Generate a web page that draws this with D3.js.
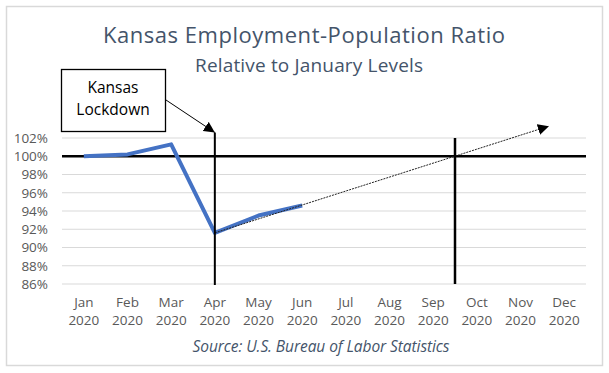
<!DOCTYPE html>
<html>
<head>
<meta charset="utf-8">
<script src="https://cdn.jsdelivr.net/npm/d3@7"></script>
<style>
  body { margin: 0; background: #fff; }
  text { font-family: "Open Sans", "Noto Sans", sans-serif; }
</style>
</head>
<body>
<svg id="chart"></svg>
<script>
const months = ['Jan', 'Feb', 'Mar', 'Apr', 'May', 'Jun', 'Jul', 'Aug', 'Sep', 'Oct', 'Nov', 'Dec'];
const years = months.map(() => '2020');
const ratio = [100, 100.2, 101.3, 91.6, 93.5, 94.6]; // Jan..Jun
const yTicks = [86, 88, 90, 92, 94, 96, 98, 100, 102];
// trend arrow, month index (Jan = 0) and value
const trendIdx = [3, 10.65];
const trendVal = [91.6, 103.3];
const lockdownIdx = 3;
const targetIdx = 8.5;

const width = 609, height = 373;
const margin = { top: 138, right: 23, bottom: 89, left: 62 };

const svg = d3.select('#chart').attr('width', width).attr('height', height);

const defs = svg.append('defs');
defs.append('marker')
  .attr('id', 'head').attr('viewBox', '0 0 10 10')
  .attr('refX', 10).attr('refY', 5)
  .attr('markerWidth', 11).attr('markerHeight', 11)
  .attr('markerUnits', 'userSpaceOnUse')
  .attr('orient', 'auto')
  .append('path').attr('d', 'M0,0L10,5L0,10Z').attr('fill', '#000');

// outer frame
svg.append('rect')
  .attr('x', 6.5).attr('y', 6.5).attr('width', 596).attr('height', 359)
  .attr('fill', '#fff').attr('stroke', '#d9d9d9').attr('stroke-width', 1.5);

const x = d3.scalePoint().domain(months)
  .range([margin.left, width - margin.right]).padding(0.5);
const xi = d3.scaleLinear().domain([-0.5, 11.5]).range([margin.left, width - margin.right]);
const y = d3.scaleLinear().domain([86, 102]).range([height - margin.bottom, margin.top]);

// gridlines
svg.append('g').selectAll('line').data(yTicks).join('line')
  .attr('x1', margin.left).attr('x2', width - margin.right)
  .attr('y1', d => y(d)).attr('y2', d => y(d))
  .attr('stroke', '#d9d9d9').attr('stroke-width', 1);

// y labels
svg.append('g').selectAll('text').data(yTicks).join('text')
  .attr('x', 48).attr('y', d => y(d)).attr('dy', '0.36em')
  .attr('text-anchor', 'end').attr('font-size', 13.5).attr('fill', '#595959')
  .text(d => d + '%');

// x labels
const xl = svg.append('g').selectAll('text').data(months).join('text')
  .attr('x', d => x(d)).attr('text-anchor', 'middle')
  .attr('font-size', 13.5).attr('fill', '#595959');
xl.append('tspan').attr('x', d => x(d)).attr('y', 307).text(d => d);
xl.append('tspan').attr('x', d => x(d)).attr('y', 325).text((d, i) => years[i]);

// 100% baseline
svg.append('line')
  .attr('x1', margin.left).attr('x2', width - margin.right)
  .attr('y1', y(100)).attr('y2', y(100))
  .attr('stroke', '#000').attr('stroke-width', 2.5);

// series
const line = d3.line().x((d, i) => x(months[i])).y(d => y(d));
svg.append('path').datum(ratio)
  .attr('d', line).attr('fill', 'none')
  .attr('stroke', '#4472c4').attr('stroke-width', 4).attr('stroke-linejoin', 'round');

// trend arrow
svg.append('line')
  .attr('x1', xi(trendIdx[0])).attr('y1', y(trendVal[0]))
  .attr('x2', xi(trendIdx[1])).attr('y2', y(trendVal[1]))
  .attr('stroke', '#222').attr('stroke-width', 1).attr('stroke-dasharray', '2,1')
  .attr('marker-end', 'url(#head)');

// lockdown vertical
svg.append('line')
  .attr('x1', xi(lockdownIdx)).attr('x2', xi(lockdownIdx))
  .attr('y1', y(86) + 1).attr('y2', y(102.6))
  .attr('stroke', '#000').attr('stroke-width', 2);

// target vertical
svg.append('line')
  .attr('x1', xi(targetIdx)).attr('x2', xi(targetIdx))
  .attr('y1', y(86)).attr('y2', y(102))
  .attr('stroke', '#000').attr('stroke-width', 2.5);

// annotation box
svg.append('rect')
  .attr('x', 61.5).attr('y', 69.5).attr('width', 104).attr('height', 62)
  .attr('fill', '#fff').attr('stroke', '#000').attr('stroke-width', 1.3);
svg.append('text').attr('x', 113).attr('y', 93).attr('text-anchor', 'middle')
  .attr('font-size', 15.5).attr('fill', '#000').text('Kansas');
svg.append('text').attr('x', 113).attr('y', 115).attr('text-anchor', 'middle')
  .attr('font-size', 15.5).attr('fill', '#000').text('Lockdown');
svg.append('line')
  .attr('x1', 166).attr('y1', 100)
  .attr('x2', xi(lockdownIdx)).attr('y2', y(102.6))
  .attr('stroke', '#000').attr('stroke-width', 1)
  .attr('marker-end', 'url(#head)');

// titles
svg.append('text').attr('x', 304).attr('y', 43).attr('text-anchor', 'middle')
  .attr('font-size', 22).attr('fill', '#44546a').attr('textLength', 402)
  .text('Kansas Employment-Population Ratio');
svg.append('text').attr('x', 309).attr('y', 72).attr('text-anchor', 'middle')
  .attr('font-size', 19).attr('fill', '#44546a').attr('textLength', 228)
  .text('Relative to January Levels');
svg.append('text').attr('x', 321).attr('y', 352).attr('text-anchor', 'middle')
  .attr('font-size', 15.5).attr('font-style', 'italic').attr('fill', '#44546a')
  .attr('textLength', 257)
  .text('Source: U.S. Bureau of Labor Statistics');
</script>
</body>
</html>
